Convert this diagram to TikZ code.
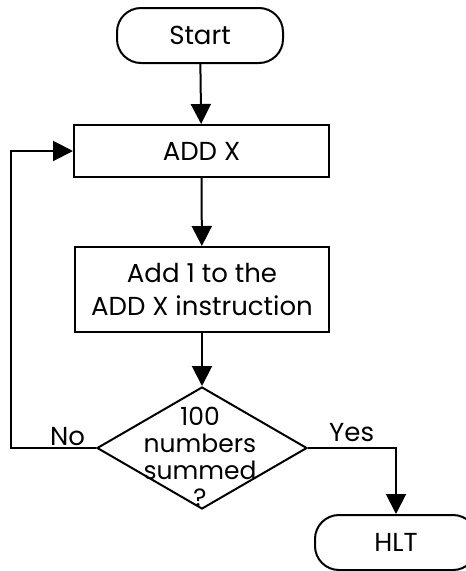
\documentclass[tikz,border=0pt]{standalone}
\usepackage{fontspec}
\setmainfont{Poppins}
\usetikzlibrary{arrows.meta,shapes.geometric}
\begin{document}
\begin{tikzpicture}[x=1pt,y=1pt,
  every node/.style={font=\fontsize{26}{27}\selectfont},
  flow/.style={line width=2pt, -{Triangle[width=20pt,length=20pt]}},
  term/.style={draw, line width=2pt, rounded corners=24pt, inner sep=0pt},
  proc/.style={draw, line width=2pt, inner sep=0pt, align=center},
  dec/.style={draw, diamond, line width=2pt, inner sep=0pt},
  lbl/.style={inner sep=0pt}
]
\useasboundingbox (0,0) rectangle (466,-571);
\node[term, minimum width=166pt, minimum height=55pt] (start) at (200,-35.5) {Start};
\node[proc, minimum width=255pt, minimum height=52pt] (addx) at (201.5,-151) {ADD X};
\node[proc, minimum width=254pt, minimum height=85pt, font=\fontsize{26}{33}\selectfont] (add1) at (202,-289.5) {Add 1 to the\\ADD X instruction};
\node[dec, minimum width=210pt, minimum height=122pt] (check) at (202,-448) {};
\node[lbl, align=center, font=\fontsize{25}{27}\selectfont] (checktxt) at (200,-457) {100\\numbers\\summed\\?};
\node[term, minimum width=162pt, minimum height=55pt] (hlt) at (396,-542.5) {HLT};
\coordinate (nocorner1) at (11,-448);
\coordinate (nocorner2) at (11,-151);
\coordinate (yescorner) at (396,-448);
\draw[flow] (start) -- (addx);
\draw[flow] (addx) -- (add1);
\draw[flow] (add1) -- (check);
\draw[flow] (check.west) -- (nocorner1) -- (nocorner2) -- (addx.west);
\draw[flow] (check.east) -- (yescorner) -- (hlt.north);
\node[lbl, anchor=base west] (no) at (50,-445) {No};
\node[lbl, anchor=base west] (yes) at (329,-441) {Yes};
\end{tikzpicture}
\end{document}
